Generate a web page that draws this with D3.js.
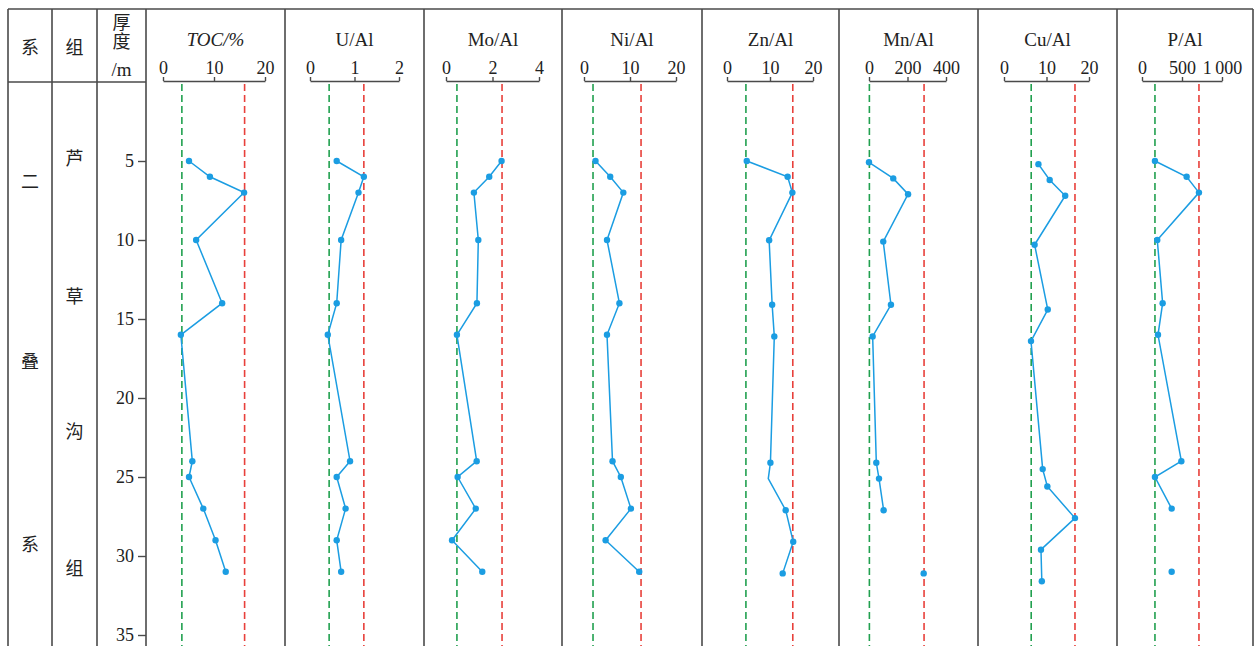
<!DOCTYPE html>
<html>
<head>
<meta charset="utf-8">
<script src="https://cdn.jsdelivr.net/npm/d3@7"></script>
<style>
  body { margin: 0; background: #fff; }
  text { fill: #222; }
</style>
</head>
<body>
<svg id="chart" width="1256" height="646"></svg>
<script>
// ---- sample depths (m) per curve ----
const depthMain = [5, 6, 7, 10, 14, 16, 24, 25, 27, 29, 31];
const depthZn   = [5, 6, 7, 10.02, 14.1, 16.1, 24.1, 25.1, 27.1, 29.1, 31.1];
const depthMn   = [5.08, 6.1, 7.1, 10.1, 14.1, 16.1, 24.1, 25.1, 27.1, 29.1, 31.1];
const depthCu   = [5.2, 6.2, 7.2, 10.3, 14.4, 16.4, 24.5, 25.6, 27.6, 29.6, 31.6];

// ---- measured values (null = no sample, breaks the line) ----
const tocValues  = [5.1, 9.2, 15.9, 6.5, 11.6, 3.5, 5.75, 5.1, 7.9, 10.3, 12.3];
const uAlValues  = [0.60, 1.21, 1.09, 0.70, 0.60, 0.40, 0.90, 0.60, 0.80, 0.60, 0.70];
const moAlValues = [2.39, 1.86, 1.20, 1.39, 1.33, 0.47, 1.32, 0.50, 1.28, 0.26, 1.56];
const niAlValues = [2.5, 5.7, 8.55, 5.0, 7.7, 5.0, 6.2, 8.0, 10.2, 4.7, 12.0];
const znAlValues = [4.6, 14.1, 15.2, 9.8, 10.5, 11.0, 10.1, 9.6, 13.65, 15.4, 12.95];
const mnAlValues = [0, 126, 203, 74, 114, 19, 38, 52, 76, null, 284];
const cuAlValues = [8.1, 10.75, 14.4, 7.2, 10.3, 6.35, 9.1, 10.2, 16.7, 8.7, 8.9];
const pAlValues  = [162, 558, 712, 191, 258, 200, 492, 162, 371, null, 371];

// indices where the curve bends without a sample marker
const znAlNoMarker = [7];

// ---- reference thresholds per curve ----
const lowerThresholds = [3.7, 0.43, 0.47, 1.96, 4.4, 2, 6.4, 162];
const upperThresholds = [16, 1.21, 2.41, 12.4, 15.3, 286, 16.7, 712];

// ---- headers and axes ----
const panelTitles = ["TOC/%", "U/Al", "Mo/Al", "Ni/Al", "Zn/Al", "Mn/Al", "Cu/Al", "P/Al"];
const axisMax = [20, 2, 4, 20, 20, 400, 20, 1000];
const axisTicks = [[0, 10, 20], [0, 1, 2], [0, 2, 4], [0, 10, 20], [0, 10, 20], [0, 200, 400], [0, 10, 20], [0, 500, 1000]];
const axisTickLabels = [
  ["0", "10", "20"], ["0", "1", "2"], ["0", "2", "4"], ["0", "10", "20"],
  ["0", "10", "20"], ["0", "200", "400"], ["0", "10", "20"], ["0", "500", "1\u2009000"]
];
const depthTicks = [5, 10, 15, 20, 25, 30, 35];

// stratigraphy labels
const systemChars = ["二", "叠", "系"];
const formationChars = ["芦", "草", "沟", "组"];
const columnHeads = ["系", "组"];
const thicknessHead = ["厚度", "/m"];

const seriesValues = [tocValues, uAlValues, moAlValues, niAlValues, znAlValues, mnAlValues, cuAlValues, pAlValues];
const seriesDepths = [depthMain, depthMain, depthMain, depthMain, depthZn, depthMn, depthCu, depthMain];
const seriesNoMarker = [[], [], [], [], znAlNoMarker, [], [], []];

// ---- layout ----
const W = 1256, H = 646;
const frameTop = 9, headBottom = 82;
const colEdges = [8, 52, 97, 146, 285, 424, 562, 702, 839, 978, 1117, 1253];
const axisRanges = [[163, 265], [310, 399], [446, 539], [584, 676], [727, 813], [869, 946], [1004, 1089], [1142, 1222]];
const axisY = 81;

const latinFont = "'Liberation Serif', 'DejaVu Serif', serif";
const cjkFont = "'Noto Sans CJK SC', sans-serif";
const lineColor = "#4a4a4a";
const curveColor = "#1b9de2";
const lowColor = "#21a04f";
const highColor = "#e8403b";

const svg = d3.select("#chart");
svg.append("rect").attr("width", W).attr("height", H).attr("fill", "#fff");

const y = d3.scaleLinear().domain([0, 35]).range([headBottom, 635]);

// ---- table frame ----
const frame = svg.append("g").attr("stroke", lineColor).attr("stroke-width", 1.6).attr("fill", "none");
frame.append("line").attr("x1", colEdges[0]).attr("x2", colEdges[colEdges.length - 1]).attr("y1", frameTop).attr("y2", frameTop);
frame.append("line").attr("x1", colEdges[0]).attr("x2", colEdges[3]).attr("y1", headBottom).attr("y2", headBottom);
colEdges.forEach(x => {
  frame.append("line").attr("x1", x).attr("x2", x).attr("y1", frameTop).attr("y2", H);
});

// ---- left columns ----
columnHeads.forEach((t, i) => {
  svg.append("text")
    .attr("x", (colEdges[i] + colEdges[i + 1]) / 2).attr("y", 46)
    .attr("text-anchor", "middle").attr("dominant-baseline", "central")
    .style("font-family", cjkFont).style("font-size", "18px").text(t);
});

// thickness heading: "厚度" set vertically, unit underneath
const thickX = (colEdges[2] + colEdges[3]) / 2;
svg.append("text").attr("x", thickX).attr("y", 32)
  .attr("text-anchor", "middle")
  .style("writing-mode", "vertical-rl").style("letter-spacing", "1px")
  .style("font-family", cjkFont).style("font-size", "18px").text(thicknessHead[0]);
svg.append("text").attr("x", thickX).attr("y", 76)
  .attr("text-anchor", "middle")
  .style("font-family", latinFont).style("font-size", "19px").text(thicknessHead[1]);

[180, 360, 543].forEach((yy, i) => {
  svg.append("text").attr("x", (colEdges[0] + colEdges[1]) / 2).attr("y", yy)
    .attr("text-anchor", "middle").attr("dominant-baseline", "central")
    .style("font-family", cjkFont).style("font-size", "18px").text(systemChars[i]);
});
[157, 295, 430, 567].forEach((yy, i) => {
  svg.append("text").attr("x", (colEdges[1] + colEdges[2]) / 2).attr("y", yy)
    .attr("text-anchor", "middle").attr("dominant-baseline", "central")
    .style("font-family", cjkFont).style("font-size", "18px").text(formationChars[i]);
});

// ---- depth axis ----
const depthAxis = svg.append("g").attr("transform", `translate(${colEdges[3]},0)`)
  .call(d3.axisLeft(y).tickValues(depthTicks).tickSize(8).tickPadding(4).tickFormat(d3.format("d")));
depthAxis.select(".domain").remove();
depthAxis.selectAll("line").attr("stroke", lineColor).attr("stroke-width", 1.4);
depthAxis.selectAll("text").style("font-family", latinFont).style("font-size", "18px").attr("fill", "#222");

// ---- curve panels ----
panelTitles.forEach((title, i) => {
  const x = d3.scaleLinear().domain([0, axisMax[i]]).range(axisRanges[i]);
  const cx = (colEdges[i + 3] + colEdges[i + 4]) / 2;
  const g = svg.append("g");

  g.append("text").attr("x", cx).attr("y", 46).attr("text-anchor", "middle")
    .style("font-family", latinFont).style("font-size", "19px")
    .style("font-style", i === 0 ? "italic" : "normal").text(title);

  const ax = g.append("g").attr("transform", `translate(0,${axisY})`)
    .call(d3.axisTop(x).tickValues(axisTicks[i]).tickSizeInner(4).tickSizeOuter(0).tickPadding(3)
      .tickFormat((d, k) => axisTickLabels[i][k]));
  ax.selectAll("path,line").attr("stroke", lineColor).attr("stroke-width", 1.4);
  ax.selectAll("text").style("font-family", latinFont).style("font-size", "18px").attr("fill", "#222");

  // threshold lines
  [[lowerThresholds[i], lowColor], [upperThresholds[i], highColor]].forEach(([v, c]) => {
    g.append("line").attr("x1", x(v)).attr("x2", x(v)).attr("y1", headBottom + 2).attr("y2", H)
      .attr("stroke", c).attr("stroke-width", 1.6).attr("stroke-dasharray", "7,4");
  });

  const pts = seriesValues[i].map((v, k) => ({ v, d: seriesDepths[i][k], k }));
  const line = d3.line().defined(p => p.v !== null).x(p => x(p.v)).y(p => y(p.d));
  g.append("path").attr("d", line(pts)).attr("fill", "none")
    .attr("stroke", curveColor).attr("stroke-width", 1.5);

  g.selectAll("circle")
    .data(pts.filter(p => p.v !== null && !seriesNoMarker[i].includes(p.k)))
    .join("circle")
    .attr("cx", p => x(p.v)).attr("cy", p => y(p.d)).attr("r", 3.2)
    .attr("fill", curveColor);
});
</script>
</body>
</html>
